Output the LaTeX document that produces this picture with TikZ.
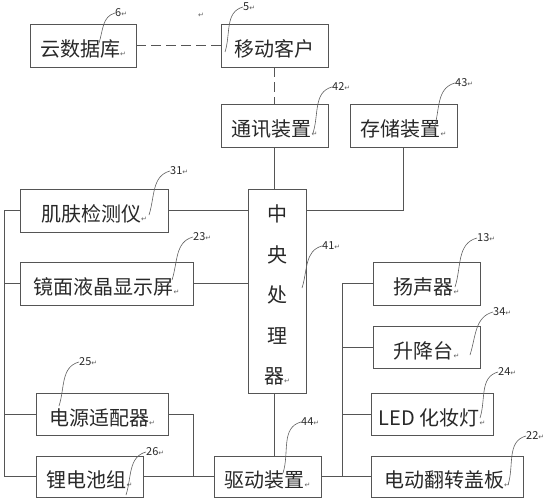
\documentclass[tikz,border=0pt]{standalone}
\usepackage{fontspec}
\setmainfont{Noto Sans CJK SC}
\newfontfamily\retfont{DejaVu Sans}
\definecolor{linegray}{RGB}{85, 85, 85}
\definecolor{textgray}{RGB}{40, 40, 40}
\definecolor{leadgray}{RGB}{95, 95, 95}
\newcommand{\ret}{{\retfont\fontsize{7}{8}\selectfont\textcolor{leadgray}{↵}}}
\usepackage{tikz}
\usetikzlibrary{calc}

\begin{document}
\begin{tikzpicture}[x=1pt, y=-1pt,
  frame/.style={draw=linegray, line width=0.8pt, inner sep=0pt, text=textgray},
  box/.style={frame, minimum height=43pt, text height=24pt, text depth=2pt, font=\fontsize{20}{24}\selectfont},
  wire/.style={draw=linegray, line width=0.8pt},
  link/.style={wire, line width=1pt, dash pattern=on 10pt off 5pt},
  tag/.style={anchor=west, inner sep=0pt, text=textgray, font=\fontsize{11}{13}\selectfont},
  lead/.style={draw=leadgray, line width=0.6pt}]
  \useasboundingbox (0,0) rectangle (546,500);

  % Blocks
  \node[box, minimum width=106pt] (cloud) at (83,45.5) {云数据库\ret};
  \node[box, minimum width=107pt] (mobile) at (274.5,45.5) {移动客户};
  \node[box, minimum width=107pt] (comm) at (274.5,125.5) {通讯装置\ret};
  \node[box, minimum width=107pt] (store) at (403.5,125.5) {存储装置\ret};
  \node[box, minimum width=148pt] (skin) at (94,210.5) {肌肤检测仪\ret};
  \node[box, minimum width=173pt] (mirror) at (106.5,283.5) {镜面液晶显示屏\ret};
  \node[frame, minimum width=58pt, minimum height=204pt, align=center, font=\fontsize{20}{40.5}\selectfont] (cpu) at (277,291) {\rule{0pt}{25pt}中\\央\\处\\理\\器\ret};
  \node[box, minimum width=107pt] (speaker) at (426.5,283.5) {扬声器\ret};
  \node[box, minimum width=107pt, minimum height=42pt] (lift) at (426.5,347) {升降台\ret};
  \node[box, minimum width=122pt, minimum height=42pt] (led) at (432,414) {LED 化妆灯\ret};
  \node[box, minimum width=152pt, minimum height=41pt] (cover) at (447,476.5) {电动翻转盖板\ret};
  \node[box, minimum width=107pt, minimum height=41pt] (drive) at (267.5,476.5) {驱动装置\ret};
  \node[box, minimum width=132pt, minimum height=42pt] (adapter) at (102,414) {电源适配器\ret};
  \node[box, minimum width=107pt, minimum height=41pt] (battery) at (89.5,476.5) {锂电池组\ret};
  \node[inner sep=0pt] (stray) at (201,15) {\ret};

  % Connectors
  \coordinate (lbus) at (4,0);
  \coordinate (pj) at (193,0);
  \coordinate (rbus) at (342,0);
  \draw[link] (cloud.east) -- (mobile.west);
  \draw[link] (mobile.south) -- (comm.north);
  \draw[wire] (comm.south) -- (comm.south |- cpu.north);
  \draw[wire] (store.south) |- (cpu.east |- skin.east);
  \draw[wire] (skin.east) -- (skin.east -| cpu.west);
  \draw[wire] (mirror.east) -- (mirror.east -| cpu.west);
  \draw[wire] (cpu.south -| comm.south) -- (drive.north -| comm.south);
  \draw[wire] (skin.west) -| (lbus |- battery.west) -- (battery.west);
  \draw[wire] (mirror.west) -- (mirror.west -| lbus);
  \draw[wire] (adapter.west) -- (adapter.west -| lbus);
  \draw[wire] (adapter.east) -| (pj |- drive.west);
  \draw[wire] (battery.east) -- (drive.west);
  \draw[wire] (drive.east) -- (cover.west);
  \draw[wire] (speaker.west) -| (rbus |- cover.west);
  \draw[wire] (lift.west) -- (lift.west -| rbus);
  \draw[wire] (led.west) -- (led.west -| rbus);

  % Reference numbers
  \coordinate (p6) at (99,43); \node[tag] (t6) at (115,13) {6\ret};
  \draw[lead] (p6) to[out=72,in=195] (t6.west);
  \coordinate (p5) at (225,52); \node[tag] (t5) at (243,7) {5\ret};
  \draw[lead] (p5) to[out=72,in=195] (t5.west);
  \coordinate (p42) at (313,133); \node[tag] (t42) at (332,87) {42\ret};
  \draw[lead] (p42) to[out=72,in=195] (t42.west);
  \coordinate (p43) at (434,129); \node[tag] (t43) at (455,83) {43\ret};
  \draw[lead] (p43) to[out=72,in=195] (t43.west);
  \coordinate (p31) at (149,215); \node[tag] (t31) at (170,171) {31\ret};
  \draw[lead] (p31) to[out=72,in=195] (t31.west);
  \coordinate (p23) at (172,280); \node[tag] (t23) at (193,237) {23\ret};
  \draw[lead] (p23) to[out=72,in=195] (t23.west);
  \coordinate (p41) at (302,288); \node[tag] (t41) at (322,246) {41\ret};
  \draw[lead] (p41) to[out=72,in=195] (t41.west);
  \coordinate (p13) at (455,287); \node[tag] (t13) at (477,238) {13\ret};
  \draw[lead] (p13) to[out=72,in=195] (t13.west);
  \coordinate (p34) at (470,355); \node[tag] (t34) at (493,312) {34\ret};
  \draw[lead] (p34) to[out=72,in=195] (t34.west);
  \coordinate (p25) at (59,406); \node[tag] (t25) at (79,362) {25\ret};
  \draw[lead] (p25) to[out=72,in=195] (t25.west);
  \coordinate (p26) at (126,495); \node[tag] (t26) at (146,452) {26\ret};
  \draw[lead] (p26) to[out=72,in=195] (t26.west);
  \coordinate (p44) at (283,473); \node[tag] (t44) at (301,422) {44\ret};
  \draw[lead] (p44) to[out=72,in=195] (t44.west);
  \coordinate (p24) at (480,418); \node[tag] (t24) at (498,372) {24\ret};
  \draw[lead] (p24) to[out=72,in=195] (t24.west);
  \coordinate (p22) at (508,485); \node[tag] (t22) at (526,436) {22\ret};
  \draw[lead] (p22) to[out=72,in=195] (t22.west);
\end{tikzpicture}
\end{document}
